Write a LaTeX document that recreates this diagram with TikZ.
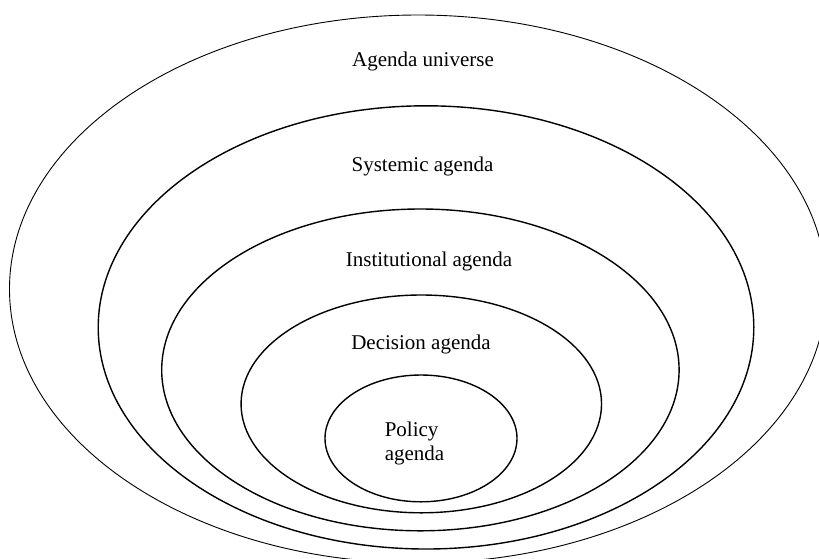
\documentclass[tikz,border=0pt]{standalone}
\usepackage{fontspec}
\setmainfont{Liberation Serif}
\usetikzlibrary{shapes.geometric}
\usetikzlibrary{positioning}

\begin{document}
\begin{tikzpicture}[x=1pt,y=-1pt,every node/.style={font=\fontsize{21}{24}\selectfont,inner sep=0pt},
  ring/.style={draw,ellipse,line width=1.4pt}]
\useasboundingbox (0,0) rectangle (819,558);
  \node[ring,line width=0.9pt,minimum width=817pt,minimum height=548pt] (universe) at (418,289){};
  \node[ring,minimum width=655.6pt,minimum height=443.2pt] (systemic) at (426,327.4){};
  \node[ring,minimum width=517.4pt,minimum height=321.8pt] (institutional) at (420.4,369.9){};
  \node[ring,minimum width=360.5pt,minimum height=217.8pt] (decision) at (421.3,403.9){};
  \node[ring,minimum width=192pt,minimum height=126.8pt] (policy) at (421,438.4){};

  \node[anchor=base] (universelabel) at (423,66.7){Agenda universe};
  \node[anchor=base] (systemiclabel) at (422.5,171){Systemic agenda};
  \node[anchor=base] (institutionallabel) at (429,266.7){Institutional agenda};
  \node[anchor=base] (decisionlabel) at (421,349.5){Decision agenda};
  \node[align=left] (policylabel) at (414.5,443){Policy\\agenda};
\end{tikzpicture}
\end{document}
